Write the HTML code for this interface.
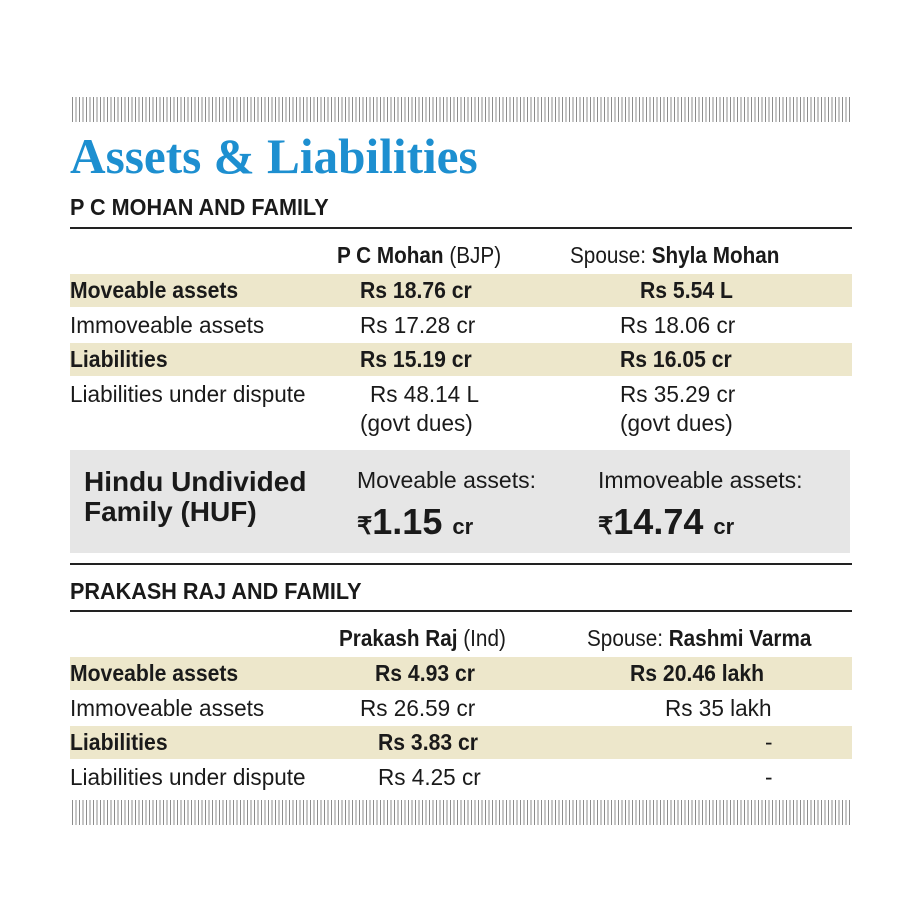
<!DOCTYPE html>
<html><head><meta charset="utf-8"><style>
body{margin:0;width:900px;height:900px;background:#fff;position:relative;overflow:hidden;font-family:"Liberation Sans",sans-serif;color:#1a1a1a}
.a{position:absolute;white-space:nowrap;transform:scaleX(0.98);transform-origin:left top;font-size:23px;line-height:26px}
.b{font-weight:bold}
.hatch{position:absolute;left:72px;width:780px;height:25px;background:repeating-linear-gradient(90deg,#8c8c8c 0 1px,#fff 1px 3.5px)}
.band{position:absolute;left:70px;width:782px;height:33px;background:#ede7cb}
.line{position:absolute;left:70px;width:782px;height:2px;background:#222}
</style></head><body>
<div class="hatch" style="top:97px"></div>
<div class="a b" style="left:70px;top:128px;font-family:'Liberation Serif',serif;font-size:50px;line-height:56px;color:#1d8fd0;transform:scaleX(0.985)">Assets &amp; Liabilities</div>
<div class="a b" style="left:70px;top:194px;font-size:23px;transform:scaleX(0.94)">P C MOHAN AND FAMILY</div>
<div class="line" style="top:227px"></div>
<div class="a" style="left:337px;top:242px;transform:scaleX(0.9)"><b>P C Mohan</b> (BJP)</div>
<div class="a" style="left:570px;top:242px;transform:scaleX(0.9)">Spouse: <b>Shyla Mohan</b></div>
<div class="band" style="top:274px"></div>
<div class="a b" style="left:70px;top:277px;transform:scaleX(0.92)">Moveable assets</div>
<div class="a b" style="left:360px;top:277px;transform:scaleX(0.92)">Rs 18.76 cr</div>
<div class="a b" style="left:640px;top:277px;transform:scaleX(0.92)">Rs 5.54 L</div>
<div class="a" style="left:70px;top:312px">Immoveable assets</div>
<div class="a" style="left:360px;top:312px">Rs 17.28 cr</div>
<div class="a" style="left:620px;top:312px">Rs 18.06 cr</div>
<div class="band" style="top:343px"></div>
<div class="a b" style="left:70px;top:346px;transform:scaleX(0.92)">Liabilities</div>
<div class="a b" style="left:360px;top:346px;transform:scaleX(0.92)">Rs 15.19 cr</div>
<div class="a b" style="left:620px;top:346px;transform:scaleX(0.92)">Rs 16.05 cr</div>
<div class="a" style="left:70px;top:381px">Liabilities under dispute</div>
<div class="a" style="left:370px;top:381px">Rs 48.14 L</div>
<div class="a" style="left:620px;top:381px">Rs 35.29 cr</div>
<div class="a" style="left:360px;top:410px">(govt dues)</div>
<div class="a" style="left:620px;top:410px">(govt dues)</div>
<div style="position:absolute;left:70px;top:450px;width:780px;height:103px;background:#e6e6e6"></div>
<div class="a b" style="left:84px;top:467px;font-size:28px;line-height:30px;transform:scaleX(1.0)">Hindu Undivided<br>Family (HUF)</div>
<div class="a" style="left:357px;top:467px;transform:scaleX(1.0)">Moveable assets:</div>
<div class="a" style="left:598px;top:467px;transform:scaleX(1.0)">Immoveable assets:</div>
<div class="a b" style="left:357px;top:502px;font-size:36px;line-height:40px;transform:scaleX(1.0)"><span style="font-size:24px">₹</span>1.15 <span style="font-size:22px">cr</span></div>
<div class="a b" style="left:598px;top:502px;font-size:36px;line-height:40px;transform:scaleX(1.0)"><span style="font-size:24px">₹</span>14.74 <span style="font-size:22px">cr</span></div>
<div class="line" style="top:563px"></div>
<div class="a b" style="left:70px;top:578px;transform:scaleX(0.94)">PRAKASH RAJ AND FAMILY</div>
<div class="line" style="top:610px"></div>
<div class="a" style="left:339px;top:625px;transform:scaleX(0.9)"><b>Prakash Raj</b> (Ind)</div>
<div class="a" style="left:587px;top:625px;transform:scaleX(0.9)">Spouse: <b>Rashmi Varma</b></div>
<div class="band" style="top:657px"></div>
<div class="a b" style="left:70px;top:660px;transform:scaleX(0.92)">Moveable assets</div>
<div class="a b" style="left:375px;top:660px;transform:scaleX(0.92)">Rs 4.93 cr</div>
<div class="a b" style="left:630px;top:660px;transform:scaleX(0.92)">Rs 20.46 lakh</div>
<div class="a" style="left:70px;top:695px">Immoveable assets</div>
<div class="a" style="left:360px;top:695px">Rs 26.59 cr</div>
<div class="a" style="left:665px;top:695px">Rs 35 lakh</div>
<div class="band" style="top:726px"></div>
<div class="a b" style="left:70px;top:729px;transform:scaleX(0.92)">Liabilities</div>
<div class="a b" style="left:378px;top:729px;transform:scaleX(0.92)">Rs 3.83 cr</div>
<div class="a" style="left:765px;top:729px">-</div>
<div class="a" style="left:70px;top:764px">Liabilities under dispute</div>
<div class="a" style="left:378px;top:764px">Rs 4.25 cr</div>
<div class="a" style="left:765px;top:764px">-</div>
<div class="hatch" style="top:800px"></div>
</body></html>
